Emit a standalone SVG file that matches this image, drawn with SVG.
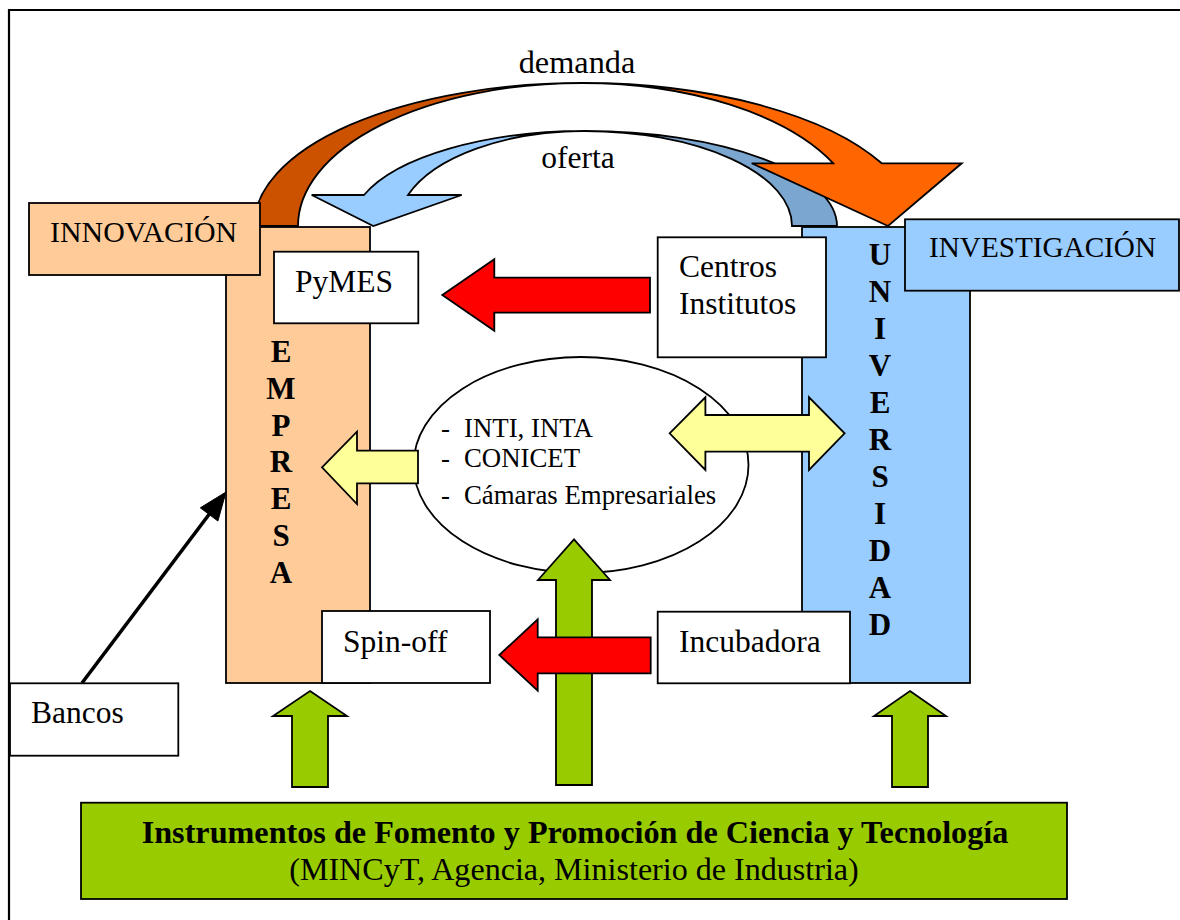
<svg xmlns="http://www.w3.org/2000/svg" width="1180" height="920" viewBox="0 0 1180 920">
<style>
  .t { font-family: "Liberation Serif", "Times New Roman", serif; font-size: 31.5px; fill: #000; }
  .b { font-weight: bold; }
  .e { font-size: 26.8px; }
  .s { stroke: #000; stroke-width: 1.8; }
  .col-e { fill: #FFCC99; }
  .col-u { fill: #99CCFF; }
  .box { fill: #FFFFFF; }
  .red { fill: #FF0000; stroke: #000; stroke-width: 1.8; }
  .yel { fill: #FFFF99; stroke: #000; stroke-width: 1.8; }
  .grn { fill: #99CC00; stroke: #000; stroke-width: 1.8; }
</style>
<rect width="1180" height="920" fill="#FFFFFF"/>
<path d="M9,920 L9,10 L1180,10" fill="none" stroke="#000" stroke-width="2.2"/>

<g id="node-empresa">
  <rect class="col-e s" x="226" y="227" width="144" height="456"/>
  <text class="t b" text-anchor="middle" style="font-size:31px">
    <tspan x="281" y="362">E</tspan><tspan x="281" y="399">M</tspan><tspan x="281" y="436">P</tspan><tspan x="281" y="472">R</tspan><tspan x="281" y="509">E</tspan><tspan x="281" y="546">S</tspan><tspan x="281" y="583">A</tspan>
  </text>
</g>
<g id="node-universidad">
  <rect class="col-u s" x="802" y="227" width="168" height="456"/>
  <text class="t b" text-anchor="middle" style="font-size:31px">
    <tspan x="880" y="265">U</tspan><tspan x="880" y="302">N</tspan><tspan x="880" y="339">I</tspan><tspan x="880" y="376">V</tspan><tspan x="880" y="413">E</tspan><tspan x="880" y="450">R</tspan><tspan x="880" y="487">S</tspan><tspan x="880" y="524">I</tspan><tspan x="880" y="561">D</tspan><tspan x="880" y="598">A</tspan><tspan x="880" y="635">D</tspan>
  </text>
</g>
<g id="node-organismos">
  <ellipse class="box s" cx="581" cy="465" rx="167.5" ry="108"/>
  <text class="t e" x="441" y="437">-</text>
  <text class="t e" x="464" y="437">INTI, INTA</text>
  <text class="t e" x="441" y="467">-</text>
  <text class="t e" x="464" y="467">CONICET</text>
  <text class="t e" x="441" y="504">-</text>
  <text class="t e" x="464" y="504">Cámaras Empresariales</text>
</g>
<g id="node-pymes">
  <rect class="box s" x="274" y="251.7" width="144.3" height="71.6"/>
  <text class="t" x="295" y="292">PyMES</text>
</g>
<g id="node-centros">
  <rect class="box s" x="657.7" y="237.3" width="168.3" height="120"/>
  <text class="t" x="679" y="277">Centros</text>
  <text class="t" x="679" y="314">Institutos</text>
</g>
<g id="node-spinoff">
  <rect class="box s" x="322" y="611" width="168" height="72"/>
  <text class="t" x="343" y="652">Spin-off</text>
</g>
<g id="node-incubadora">
  <rect class="box s" x="657.7" y="611.7" width="192.3" height="71.6"/>
  <text class="t" x="679" y="652">Incubadora</text>
</g>
<g id="node-bancos">
  <rect class="box s" x="10" y="683.3" width="168.3" height="72.4"/>
  <text class="t" x="31" y="723">Bancos</text>
</g>
<g id="node-instrumentos">
  <rect class="grn" x="81" y="802.7" width="986" height="96.3" stroke-width="2.2"/>
  <text class="t b" x="575" y="843" text-anchor="middle" style="font-size:32.2px">Instrumentos de Fomento y Promoción de Ciencia y Tecnología</text>
  <text class="t" x="574" y="880" text-anchor="middle" style="font-size:32.1px">(MINCyT, Agencia, Ministerio de Industria)</text>
</g>

<g id="connectors">
  <path id="demanda-back" d="M254,226 A328,143 0 0 1 582,83 A284,143 0 0 0 298,226 Z" fill="#CC5200" class="s"/>
  <path id="oferta-back" d="M585,131 A252,95 0 0 1 837,226 L792,226 A207,95 0 0 0 585,131 Z" fill="#7BA6D0" class="s"/>
  <path id="oferta-front" d="M585,131 A234,95 0 0 0 364,195 L311.7,195 L373.3,226 L461.7,195 L408,195 A187,95 0 0 1 585,131 Z" fill="#99CCFF" class="s"/>
  <path id="demanda-front" d="M582,83 A333,143 0 0 1 881.7,163.3 L961.7,163.3 L888,226 L751.7,163.3 L833.3,163.3 A279.5,143 0 0 0 582,83 Z" fill="#FF6600" class="s"/>
  <text class="t" x="577" y="73" text-anchor="middle" style="font-size:32.3px">demanda</text>
  <text class="t" x="578" y="168" text-anchor="middle">oferta</text>

  <polygon class="red" points="442.3,295 494.3,259.3 494.3,277.7 650,277.7 650,312.7 494.3,312.7 494.3,330.7"/>
  <polygon class="yel" points="322,467.3 357,431.7 357,450.7 418,450.7 418,483.3 357,483.3 357,504"/>
  <polygon class="yel" points="669.6,433.3 705.4,397.3 705.4,415 809,415 809,397.3 844.6,433.3 809,470 809,451.7 705.4,451.7 705.4,470"/>
  <polygon class="grn" points="310,691 347,716 328,716 328,787 292,787 292,716 273,716"/>
  <polygon class="grn" points="574,539.3 610,580 592,580 592,785 556,785 556,580 538,580"/>
  <polygon class="grn" points="910,691 946,716 928,716 928,787 892,787 892,716 874,716"/>
  <polygon class="red" points="499.3,655 537.7,619.3 537.7,637.3 650.7,637.3 650.7,673.3 537.7,673.3 537.7,690.7"/>
  <line x1="82" y1="683" x2="212" y2="510.5" stroke="#000" stroke-width="3.6"/>
  <polygon points="226,492 217.9,521 200.3,507.8" fill="#000" stroke="#000" stroke-width="1"/>
</g>

<g id="node-innovacion">
  <rect class="col-e s" x="29" y="203" width="231" height="72"/>
  <text class="t" x="50" y="242" style="font-size:29.9px">INNOVACIÓN</text>
</g>
<g id="node-investigacion">
  <rect class="col-u s" x="905" y="219.3" width="274" height="71.4"/>
  <text class="t" x="929" y="257" style="font-size:29.2px">INVESTIGACIÓN</text>
</g>
</svg>
